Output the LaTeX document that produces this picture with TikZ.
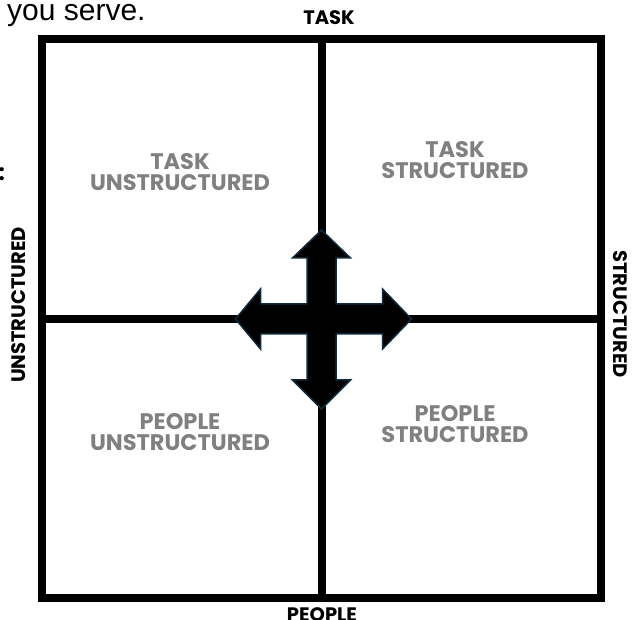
\documentclass[tikz,border=0pt]{standalone}
\usepackage{fontspec}
\setmainfont{Liberation Sans}
\newfontfamily\gridfont{Poppins}
\usetikzlibrary{positioning,calc}
\definecolor{labelgray}{HTML}{808080}
\definecolor{arrowedge}{HTML}{0F2B3C}
\tikzset{
  frame/.style={line width=8pt},
  axis label/.style={font=\gridfont\bfseries\fontsize{19.5}{20}\selectfont, inner sep=0},
  quad label/.style={font=\gridfont\bfseries\fontsize{22.5}{21}\selectfont,
    text=labelgray, align=center, inner sep=0},
  move arrow/.style={fill=black, draw=arrowedge, line width=1.5pt, line join=miter}
}
\begin{document}
\begin{tikzpicture}[x=1pt,y=-1pt]
  \useasboundingbox (0,0) rectangle (638,620);
  % frame corners and centre
  \coordinate (nw) at (42,39);
  \coordinate (se) at (601,598);
  \coordinate (n) at (321.5,39);
  \coordinate (s) at (321.5,598);
  \coordinate (w) at (42,319);
  \coordinate (e) at (601,319);
  \coordinate (c) at (321.5,319);
  \draw[frame] (nw) rectangle (se);
  \draw[frame] (n) -- (s);
  \draw[frame] (w) -- (e);
  % four-way arrow
  \draw[move arrow, shift={(c)}]
    (0,-89) -- (29,-61) -- (14.5,-61) -- (14.5,-15) -- (61,-15) -- (61,-30)
    -- (90,0) -- (61,30) -- (61,15) -- (14.5,15) -- (14.5,61) -- (29,61)
    -- (0,90) -- (-29,61) -- (-14.5,61) -- (-14.5,15) -- (-61,15) -- (-61,30)
    -- (-86,0) -- (-61,-30) -- (-61,-15) -- (-14.5,-15) -- (-14.5,-61)
    -- (-29,-61) -- cycle;
  % quadrant labels
  \node[quad label] (task unstr) at (180,172) {TASK\\UNSTRUCTURED};
  \node[quad label] (task str) at (455,160) {TASK\\STRUCTURED};
  \node[quad label] (people unstr) at (180,432) {PEOPLE\\UNSTRUCTURED};
  \node[quad label] (people str) at (455,424) {PEOPLE\\STRUCTURED};
  % axis labels
  \node[axis label] (task) at (329,18) {TASK};
  \node[axis label, anchor=base] (people) at (322,621) {PEOPLE};
  \node[axis label, rotate=90] (unstr) at (19,305) {UNSTRUCTURED};
  \node[axis label, rotate=-90] (str) at (620,314) {STRUCTURED};
  % cut-off text from the page
  \node[font=\fontsize{30}{30}\selectfont, inner sep=0, anchor=base west] (serve) at (7,21) {you serve.};
  \node[font=\gridfont\bfseries\fontsize{22}{22}\selectfont, inner sep=0, anchor=base east] (colon) at (5,181) {:};
\end{tikzpicture}
\end{document}
